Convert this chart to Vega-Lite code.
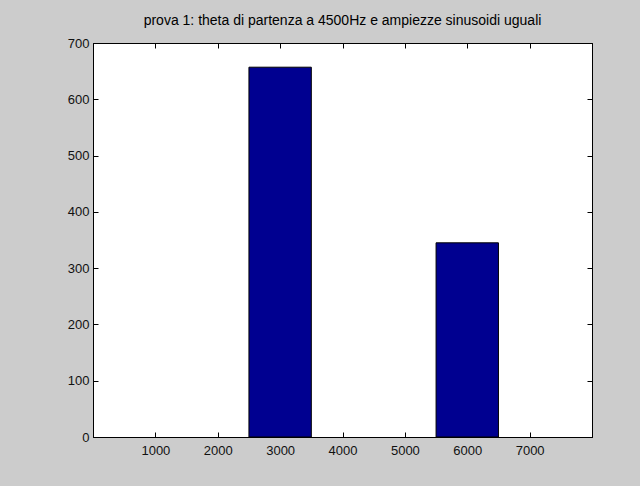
{
  "$schema": "https://vega.github.io/schema/vega-lite/v6.json",
  "autosize": {"type": "none"},
  "padding": {"left": 93, "top": 43, "right": 48, "bottom": 49},
  "width": 499,
  "height": 394,
  "background": "#cccccc",
  "view": {"fill": "white", "stroke": "black", "strokeWidth": 1},
  "title": {"text": "prova 1: theta di partenza a 4500Hz e ampiezze sinusoidi uguali", "font": "Liberation Sans", "fontSize": 14, "fontWeight": "normal", "color": "#000000", "anchor": "middle", "offset": 9},
  "data": {"values": [
    {"bin_start": 2500, "bin_end": 3500, "count": 657},
    {"bin_start": 5500, "bin_end": 6500, "count": 345}
  ]},
  "layer": [
    {
      "mark": {"type": "bar", "color": "#000090", "stroke": "black", "strokeWidth": 1},
      "encoding": {
        "x": {"field": "bin_start", "type": "quantitative", "scale": {"domain": [0, 8000], "nice": false},
          "axis": {"title": null, "values": [1000, 2000, 3000, 4000, 5000, 6000, 7000], "format": "d", "tickSize": -5, "tickColor": "black", "domainColor": "black", "labelFont": "Liberation Sans", "labelFontSize": 13, "labelColor": "#111111", "labelPadding": 12, "grid": false}},
        "x2": {"field": "bin_end"},
        "y": {"field": "count", "type": "quantitative", "scale": {"domain": [0, 700], "nice": false},
          "axis": {"title": null, "values": [0, 100, 200, 300, 400, 500, 600, 700], "format": "d", "tickSize": -5, "tickColor": "black", "domainColor": "black", "labelFont": "Liberation Sans", "labelFontSize": 13, "labelColor": "#111111", "labelPadding": 9, "grid": false}},
        "y2": {"datum": 0}
      }
    },
    {
      "mark": {"type": "bar", "opacity": 0},
      "encoding": {
        "x": {"field": "bin_start", "type": "quantitative", "scale": {"domain": [0, 8000], "nice": false},
          "axis": {"orient": "top", "title": null, "values": [1000, 2000, 3000, 4000, 5000, 6000, 7000], "tickSize": -5, "tickColor": "black", "domainColor": "black", "labels": false, "grid": false}},
        "x2": {"field": "bin_end"},
        "y": {"field": "count", "type": "quantitative", "scale": {"domain": [0, 700], "nice": false},
          "axis": {"orient": "right", "title": null, "values": [0, 100, 200, 300, 400, 500, 600, 700], "tickSize": -5, "tickColor": "black", "domainColor": "black", "labels": false, "grid": false}},
        "y2": {"datum": 0}
      }
    }
  ],
  "resolve": {"axis": {"x": "independent", "y": "independent"}}
}
